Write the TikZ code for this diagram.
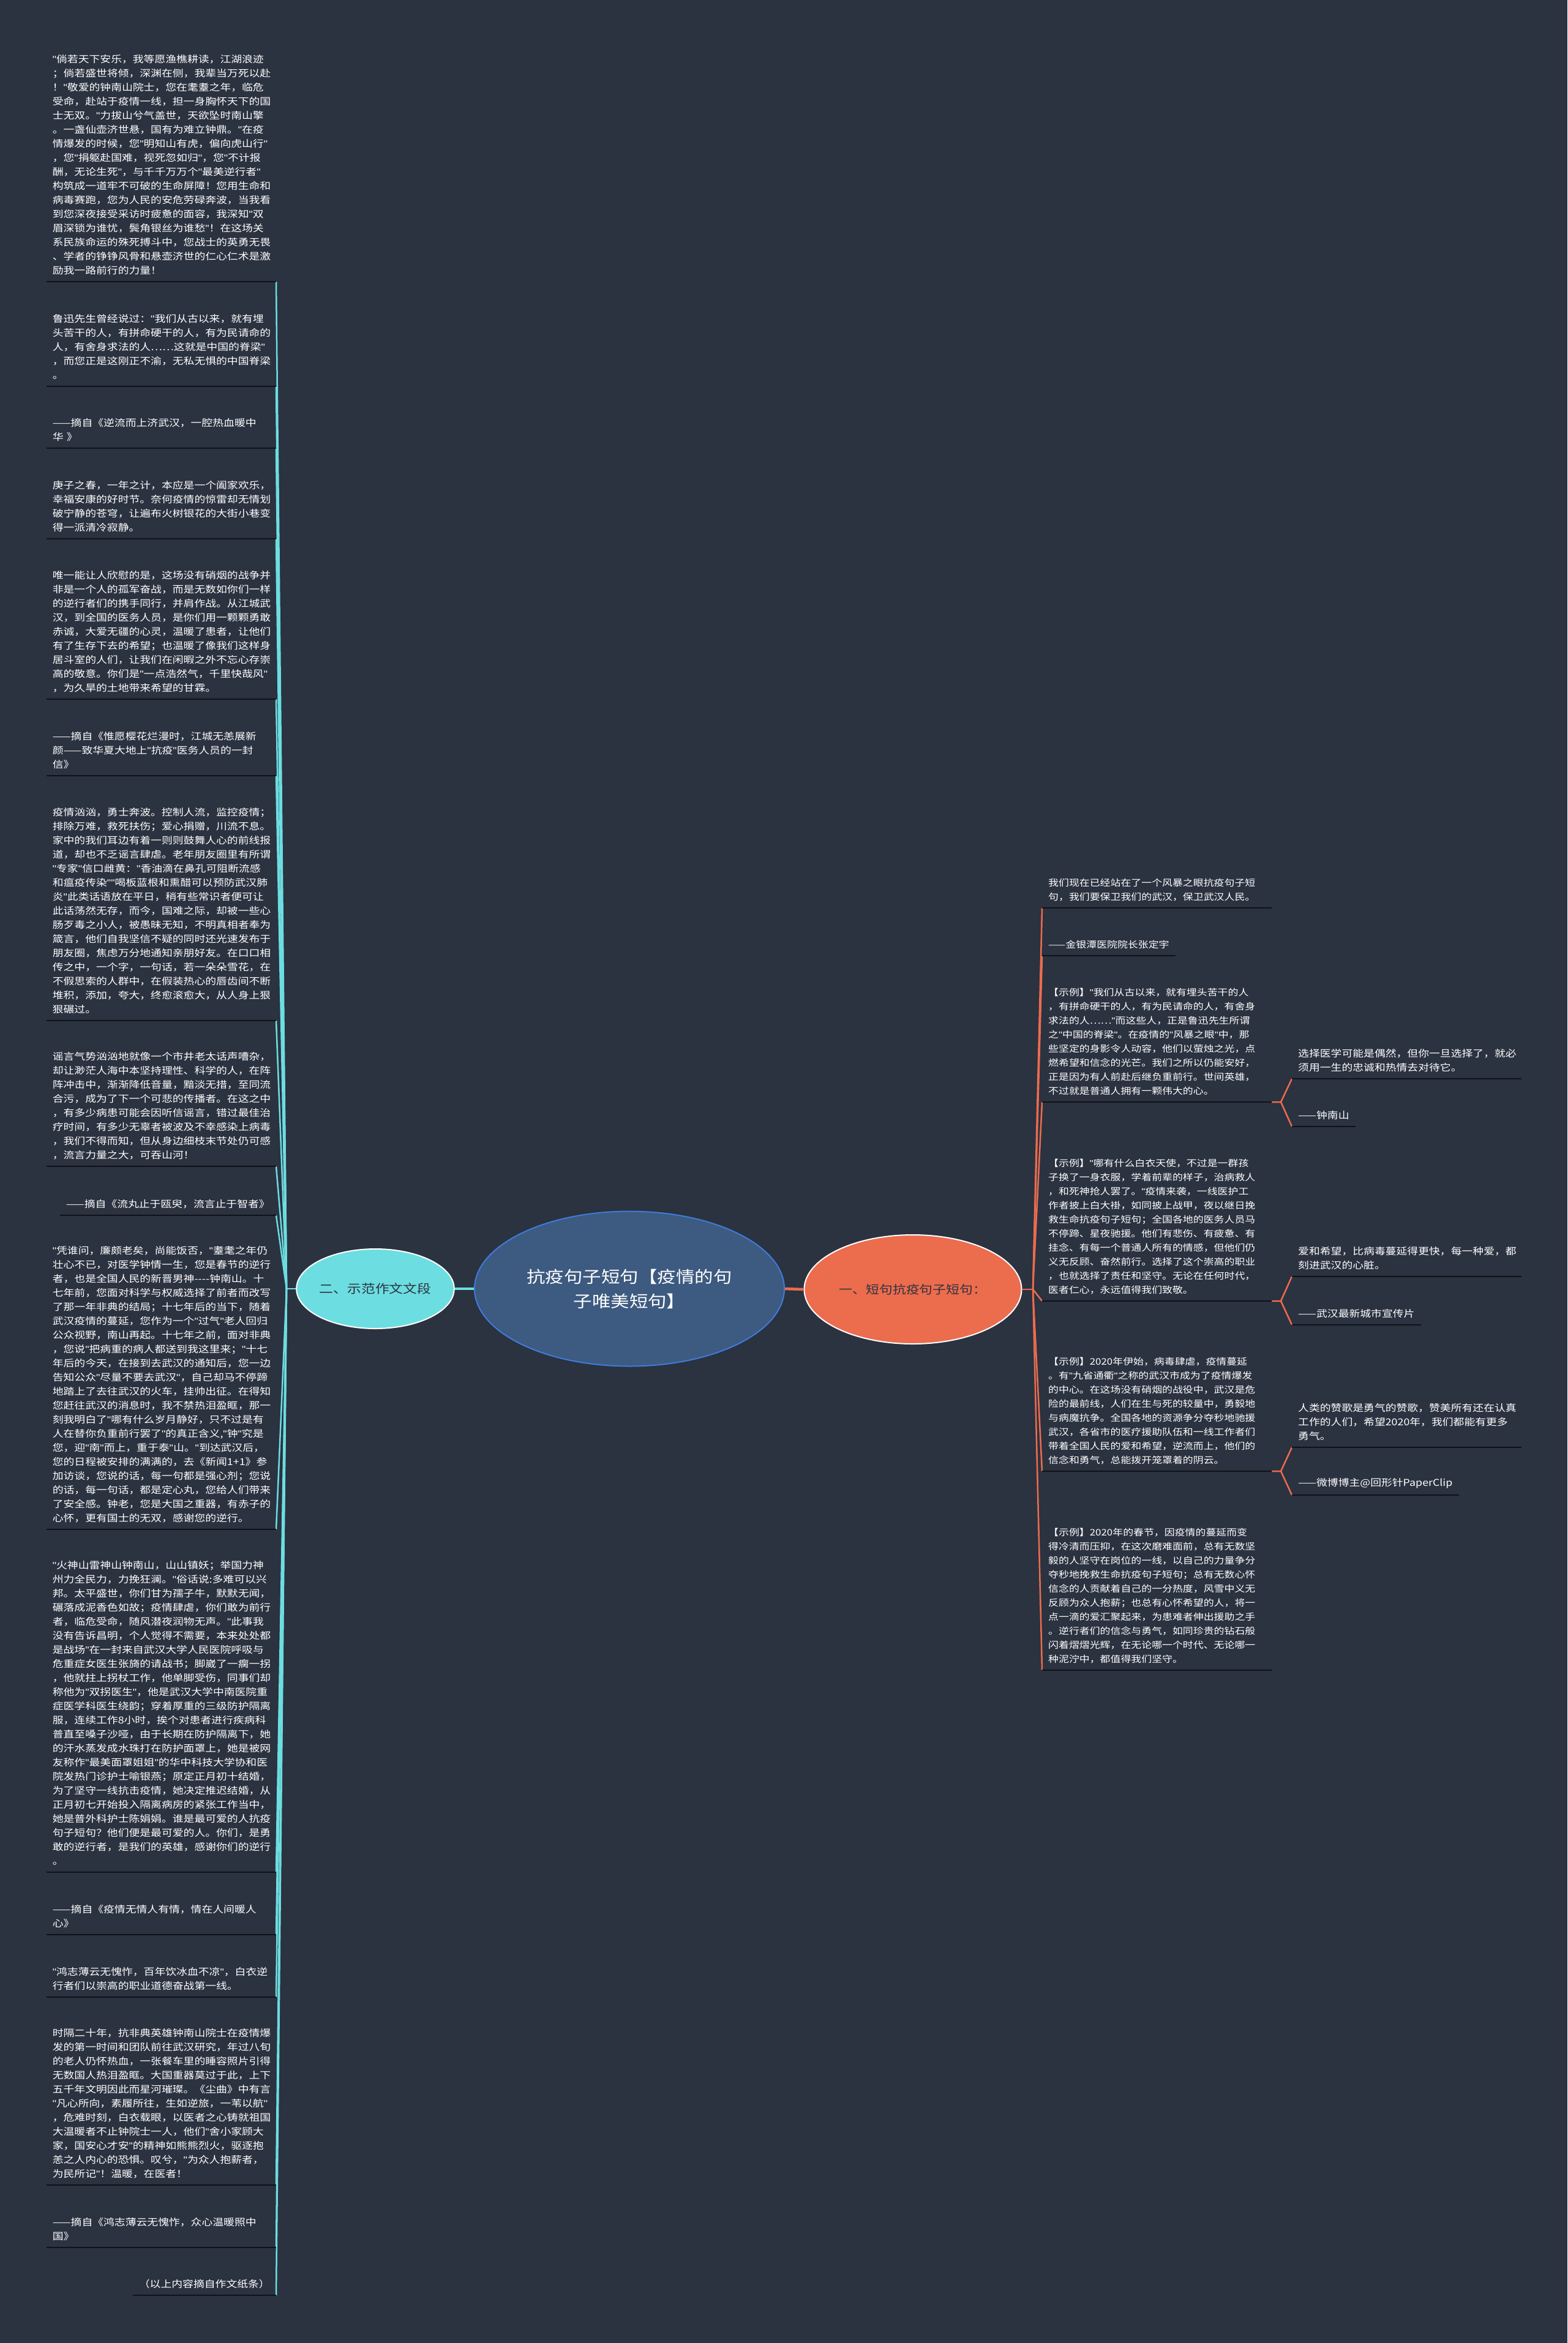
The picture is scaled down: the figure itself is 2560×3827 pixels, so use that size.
\documentclass[tikz,border=0pt]{standalone}
\usepackage{fontspec}
\setmainfont[FakeStretch=1.15]{Noto Sans CJK SC}
\newfontfamily\qfont[FakeStretch=1.15]{Liberation Sans}
\usepackage{tikz}
\usetikzlibrary{shapes.geometric}
\definecolor{bgcol}{HTML}{2B3240}
\definecolor{cyanbr}{HTML}{6CDDE0}
\definecolor{coralbr}{HTML}{EC6C4E}
\definecolor{rootfill}{HTML}{3D5A80}
\definecolor{rootedge}{HTML}{3E7CDC}
\definecolor{ulcol}{HTML}{101216}
\newcommand{\bodysize}{\fontsize{15.5}{23}\selectfont}
\newcommand{\rightsize}{\fontsize{14.7}{23}\selectfont}
\newcommand{\q}{{\qfont"}}
\tikzset{
  txtblock/.style={text=white, font=\bodysize, align=left, inner xsep=10pt, inner ysep=11pt},
  wideblock/.style={txtblock, text width=355pt},
  rblock/.style={wideblock, font=\rightsize},
  underl/.style={draw=ulcol, line width=2.5pt},
  lbranch/.style={draw=cyanbr, line width=2.5pt},
  rbranch/.style={draw=coralbr, line width=2.5pt},
  bubble/.style={ellipse, inner sep=0pt, line width=2pt, align=center}
}

\begin{document}
\begin{tikzpicture}[x=1pt, y=-1pt]
  \fill[bgcol] (0,0) rectangle (2560,3827);
  \useasboundingbox (0,0) rectangle (2560,3827);

  % Centre and the two sections
  \node[bubble, fill=rootfill, draw=rootedge, text=white, minimum width=506pt, minimum height=253pt,
    font=\fontsize{26.5}{40}\selectfont] (root) at (1028,2105) {抗疫句子短句【疫情的句\\子唯美短句】};
  \node[bubble, fill=cyanbr, draw=white, text=bgcol, minimum width=257pt, minimum height=130pt,
    font=\fontsize{19.8}{24}\selectfont] (lsec) at (613,2105) {二、示范作文文段};
  \node[bubble, fill=coralbr, draw=white, text=bgcol, minimum width=355pt, minimum height=178pt,
    font=\fontsize{19}{24}\selectfont] (rsec) at (1491,2106) {一、短句抗疫句子短句：};

  \draw[lbranch, line width=4.5pt] (root.west) -- (lsec.east);
  \draw[rbranch, line width=4.5pt] (root.east) -- (rsec.west);
  \coordinate (lfan) at (468,2105);
  \coordinate (rfan) at (1687,2106);
  \draw[lbranch] (lsec.west) -- (lfan);
  \draw[rbranch] (rsec.east) -- (rfan);

  % Left column
  \node[wideblock, anchor=south east] (l1) at (451,460) {\q{}倘若天下安乐，我等愿渔樵耕读，江湖浪迹\\；倘若盛世将倾，深渊在侧，我辈当万死以赴\\！\q{}敬爱的钟南山院士，您在耄耋之年，临危\\受命，赴站于疫情一线，担一身胸怀天下的国\\士无双。\q{}力拔山兮气盖世，天欲坠时南山擎\\。一盏仙壶济世悬，国有为难立钟鼎。\q{}在疫\\情爆发的时候，您\q{}明知山有虎，偏向虎山行\q{}\\，您\q{}捐躯赴国难，视死忽如归\q{}，您\q{}不计报\\酬，无论生死\q{}，与千千万万个\q{}最美逆行者\q{}\\构筑成一道牢不可破的生命屏障！您用生命和\\病毒赛跑，您为人民的安危劳碌奔波，当我看\\到您深夜接受采访时疲惫的面容，我深知\q{}双\\眉深锁为谁忧，鬓角银丝为谁愁\q{}！在这场关\\系民族命运的殊死搏斗中，您战士的英勇无畏\\、学者的铮铮风骨和悬壶济世的仁心仁术是激\\励我一路前行的力量！};
  \node[wideblock, anchor=south east] (l2) at (451,631) {鲁迅先生曾经说过：\q{}我们从古以来，就有埋\\头苦干的人，有拼命硬干的人，有为民请命的\\人，有舍身求法的人……这就是中国的脊梁\q{}\\，而您正是这刚正不渝，无私无惧的中国脊梁\\。};
  \node[wideblock, anchor=south east] (l3) at (451,732) {——摘自《逆流而上济武汉，一腔热血暖中\\华 》};
  \node[wideblock, anchor=south east] (l4) at (451,880) {庚子之春，一年之计，本应是一个阖家欢乐，\\幸福安康的好时节。奈何疫情的惊雷却无情划\\破宁静的苍穹，让遍布火树银花的大街小巷变\\得一派清冷寂静。};
  \node[wideblock, anchor=south east] (l5) at (451,1142) {唯一能让人欣慰的是，这场没有硝烟的战争并\\非是一个人的孤军奋战，而是无数如你们一样\\的逆行者们的携手同行，并肩作战。从江城武\\汉，到全国的医务人员，是你们用一颗颗勇敢\\赤诚，大爱无疆的心灵，温暖了患者，让他们\\有了生存下去的希望；也温暖了像我们这样身\\居斗室的人们，让我们在闲暇之外不忘心存崇\\高的敬意。你们是\q{}一点浩然气，千里快哉风\q{}\\，为久旱的土地带来希望的甘霖。};
  \node[wideblock, anchor=south east] (l6) at (451,1267) {——摘自《惟愿樱花烂漫时，江城无恙展新\\颜——致华夏大地上\q{}抗疫\q{}医务人员的一封\\信》};
  \node[wideblock, anchor=south east] (l7) at (451,1667) {疫情汹汹，勇士奔波。控制人流，监控疫情；\\排除万难，救死扶伤；爱心捐赠，川流不息。\\家中的我们耳边有着一则则鼓舞人心的前线报\\道，却也不乏谣言肆虐。老年朋友圈里有所谓\\\q{}专家\q{}信口雌黄：\q{}香油滴在鼻孔可阻断流感\\和瘟疫传染\q{}\q{}喝板蓝根和熏醋可以预防武汉肺\\炎\q{}此类话语放在平日，稍有些常识者便可让\\此话荡然无存，而今，国难之际，却被一些心\\肠歹毒之小人，被愚昧无知，不明真相者奉为\\箴言，他们自我坚信不疑的同时还光速发布于\\朋友圈，焦虑万分地通知亲朋好友。在口口相\\传之中，一个字，一句话，若一朵朵雪花，在\\不假思索的人群中，在假装热心的唇齿间不断\\堆积，添加，夸大，终愈滚愈大，从人身上狠\\狠碾过。};
  \node[wideblock, anchor=south east] (l8) at (451,1905) {谣言气势汹汹地就像一个市井老太话声嘈杂，\\却让渺茫人海中本坚持理性、科学的人，在阵\\阵冲击中，渐渐降低音量，黯淡无措，至同流\\合污，成为了下一个可悲的传播者。在这之中\\，有多少病患可能会因听信谣言，错过最佳治\\疗时间，有多少无辜者被波及不幸感染上病毒\\，我们不得而知，但从身边细枝末节处仍可感\\，流言力量之大，可吞山河！};
  \node[txtblock, anchor=south east] (l9) at (451,1985) {——摘自《流丸止于瓯臾，流言止于智者》};
  \node[wideblock, anchor=south east] (l10) at (451,2498) {\q{}凭谁问，廉颇老矣，尚能饭否，\q{}耋耄之年仍\\壮心不已，对医学钟情一生，您是春节的逆行\\者，也是全国人民的新晋男神-{}-{}-{}-钟南山。十\\七年前，您面对科学与权威选择了前者而改写\\了那一年非典的结局；十七年后的当下，随着\\武汉疫情的蔓延，您作为一个\q{}过气\q{}老人回归\\公众视野，南山再起。十七年之前，面对非典\\，您说\q{}把病重的病人都送到我这里来；\q{}十七\\年后的今天，在接到去武汉的通知后，您一边\\告知公众\q{}尽量不要去武汉\q{}，自己却马不停蹄\\地踏上了去往武汉的火车，挂帅出征。在得知\\您赶往武汉的消息时，我不禁热泪盈眶，那一\\刻我明白了\q{}哪有什么岁月静好，只不过是有\\人在替你负重前行罢了\q{}的真正含义,\q{}钟\q{}究是\\您，迎\q{}南\q{}而上，重于泰\q{}山。\q{}到达武汉后，\\您的日程被安排的满满的，去《新闻1+1》参\\加访谈，您说的话，每一句都是强心剂；您说\\的话，每一句话，都是定心丸，您给人们带来\\了安全感。钟老，您是大国之重器，有赤子的\\心怀，更有国士的无双，感谢您的逆行。};
  \node[wideblock, anchor=south east] (l11) at (451,3058) {\q{}火神山雷神山钟南山，山山镇妖；举国力神\\州力全民力，力挽狂澜。\q{}俗话说:多难可以兴\\邦。太平盛世，你们甘为孺子牛，默默无闻，\\碾落成泥香色如故；疫情肆虐，你们敢为前行\\者，临危受命，随风潜夜润物无声。\q{}此事我\\没有告诉昌明，个人觉得不需要，本来处处都\\是战场\q{}在一封来自武汉大学人民医院呼吸与\\危重症女医生张旖的请战书；脚崴了一瘸一拐\\，他就拄上拐杖工作，他单脚受伤，同事们却\\称他为\q{}双拐医生\q{}，他是武汉大学中南医院重\\症医学科医生绕韵；穿着厚重的三级防护隔离\\服，连续工作8小时，挨个对患者进行疾病科\\普直至嗓子沙哑，由于长期在防护隔离下，她\\的汗水蒸发成水珠打在防护面罩上，她是被网\\友称作\q{}最美面罩姐姐\q{}的华中科技大学协和医\\院发热门诊护士喻银燕；原定正月初十结婚，\\为了坚守一线抗击疫情，她决定推迟结婚，从\\正月初七开始投入隔离病房的紧张工作当中，\\她是普外科护士陈娟娟。谁是最可爱的人抗疫\\句子短句？他们便是最可爱的人。你们，是勇\\敢的逆行者，是我们的英雄，感谢你们的逆行\\。};
  \node[wideblock, anchor=south east] (l12) at (451,3160) {——摘自《疫情无情人有情，情在人间暖人\\心》};
  \node[wideblock, anchor=south east] (l13) at (451,3262) {\q{}鸿志薄云无愧怍，百年饮冰血不凉\q{}，白衣逆\\行者们以崇高的职业道德奋战第一线。};
  \node[wideblock, anchor=south east] (l14) at (451,3569) {时隔二十年，抗非典英雄钟南山院士在疫情爆\\发的第一时间和团队前往武汉研究，年过八旬\\的老人仍怀热血，一张餐车里的睡容照片引得\\无数国人热泪盈眶。大国重器莫过于此，上下\\五千年文明因此而星河璀璨。《尘曲》中有言\\\q{}凡心所向，素履所往，生如逆旅，一苇以航\q{}\\，危难时刻，白衣载眼，以医者之心铸就祖国\\大温暖者不止钟院士一人，他们\q{}舍小家顾大\\家，国安心才安\q{}的精神如熊熊烈火，驱逐抱\\恙之人内心的恐惧。叹兮，\q{}为众人抱薪者，\\为民所记\q{}！温暖，在医者！};
  \node[wideblock, anchor=south east] (l15) at (451,3671) {——摘自《鸿志薄云无愧怍，众心温暖照中\\国》};
  \node[txtblock, anchor=south east] (l16) at (451,3749) {（以上内容摘自作文纸条）};

  % Right column
  \node[rblock, anchor=south west] (r1) at (1702,1483) {我们现在已经站在了一个风暴之眼抗疫句子短\\句，我们要保卫我们的武汉，保卫武汉人民。};
  \node[txtblock, font=\rightsize, anchor=south west] (r2) at (1702,1561) {——金银潭医院院长张定宇};
  \node[rblock, anchor=south west] (r3) at (1702,1800) {【示例】\q{}我们从古以来，就有埋头苦干的人\\，有拼命硬干的人，有为民请命的人，有舍身\\求法的人……\q{}而这些人，正是鲁迅先生所谓\\之\q{}中国的脊梁\q{}。在疫情的\q{}风暴之眼\q{}中，那\\些坚定的身影令人动容，他们以萤烛之光，点\\燃希望和信念的光芒。我们之所以仍能安好，\\正是因为有人前赴后继负重前行。世间英雄，\\不过就是普通人拥有一颗伟大的心。};
  \node[rblock, anchor=south west] (r4) at (1702,2125) {【示例】\q{}哪有什么白衣天使，不过是一群孩\\子换了一身衣服，学着前辈的样子，治病救人\\，和死神抢人罢了。\q{}疫情来袭，一线医护工\\作者披上白大褂，如同披上战甲，夜以继日挽\\救生命抗疫句子短句；全国各地的医务人员马\\不停蹄、星夜驰援。他们有悲伤、有疲惫、有\\挂念、有每一个普通人所有的情感，但他们仍\\义无反顾、奋然前行。选择了这个崇高的职业\\，也就选择了责任和坚守。无论在任何时代，\\医者仁心，永远值得我们致敬。};
  \node[rblock, anchor=south west] (r5) at (1702,2403) {【示例】2020年伊始，病毒肆虐，疫情蔓延\\。有\q{}九省通衢\q{}之称的武汉市成为了疫情爆发\\的中心。在这场没有硝烟的战役中，武汉是危\\险的最前线，人们在生与死的较量中，勇毅地\\与病魔抗争。全国各地的资源争分夺秒地驰援\\武汉，各省市的医疗援助队伍和一线工作者们\\带着全国人民的爱和希望，逆流而上，他们的\\信念和勇气，总能拨开笼罩着的阴云。};
  \node[rblock, anchor=south west] (r6) at (1702,2728) {【示例】2020年的春节，因疫情的蔓延而变\\得冷清而压抑，在这次磨难面前，总有无数坚\\毅的人坚守在岗位的一线，以自己的力量争分\\夺秒地挽救生命抗疫句子短句；总有无数心怀\\信念的人贡献着自己的一分热度，风雪中义无\\反顾为众人抱薪；也总有心怀希望的人，将一\\点一滴的爱汇聚起来，为患难者伸出援助之手\\。逆行者们的信念与勇气，如同珍贵的钻石般\\闪着熠熠光辉，在无论哪一个时代、无论哪一\\种泥泞中，都值得我们坚守。};

  % Quotes hanging off the examples
  \node[wideblock, anchor=south west] (r3a) at (2110,1762) {选择医学可能是偶然，但你一旦选择了，就必\\须用一生的忠诚和热情去对待它。};
  \node[txtblock, anchor=south west] (r3b) at (2110,1840) {——钟南山};
  \node[wideblock, anchor=south west] (r4a) at (2110,2085) {爱和希望，比病毒蔓延得更快，每一种爱，都\\刻进武汉的心脏。};
  \node[txtblock, anchor=south west] (r4b) at (2110,2164) {——武汉最新城市宣传片};
  \node[wideblock, anchor=south west] (r5a) at (2110,2364) {人类的赞歌是勇气的赞歌，赞美所有还在认真\\工作的人们，希望2020年，我们都能有更多\\勇气。};
  \node[txtblock, anchor=south west] (r5b) at (2110,2442) {——微博博主@回形针PaperClip};
  \coordinate (r3fan) at (2092,1800);
  \coordinate (r4fan) at (2092,2125);
  \coordinate (r5fan) at (2092,2403);

  % Connectors
  \foreach \n in {1,...,16}
    \draw[lbranch] (lfan) -- (l\n.south east);
  \foreach \n in {1,...,6}
    \draw[rbranch] (rfan) -- (r\n.south west);
  \foreach \p in {3,4,5} {
    \draw[rbranch] (r\p.south east) -- (r\p fan) -- (r\p a.south west);
    \draw[rbranch] (r\p fan) -- (r\p b.south west);
  }

  % Underlines
  \foreach \n in {l1,l2,l3,l4,l5,l6,l7,l8,l9,l10,l11,l12,l13,l14,l15,l16,
    r1,r2,r3,r4,r5,r6,r3a,r3b,r4a,r4b,r5a,r5b}
    \draw[underl] (\n.south west) -- (\n.south east);

\end{tikzpicture}
\end{document}
